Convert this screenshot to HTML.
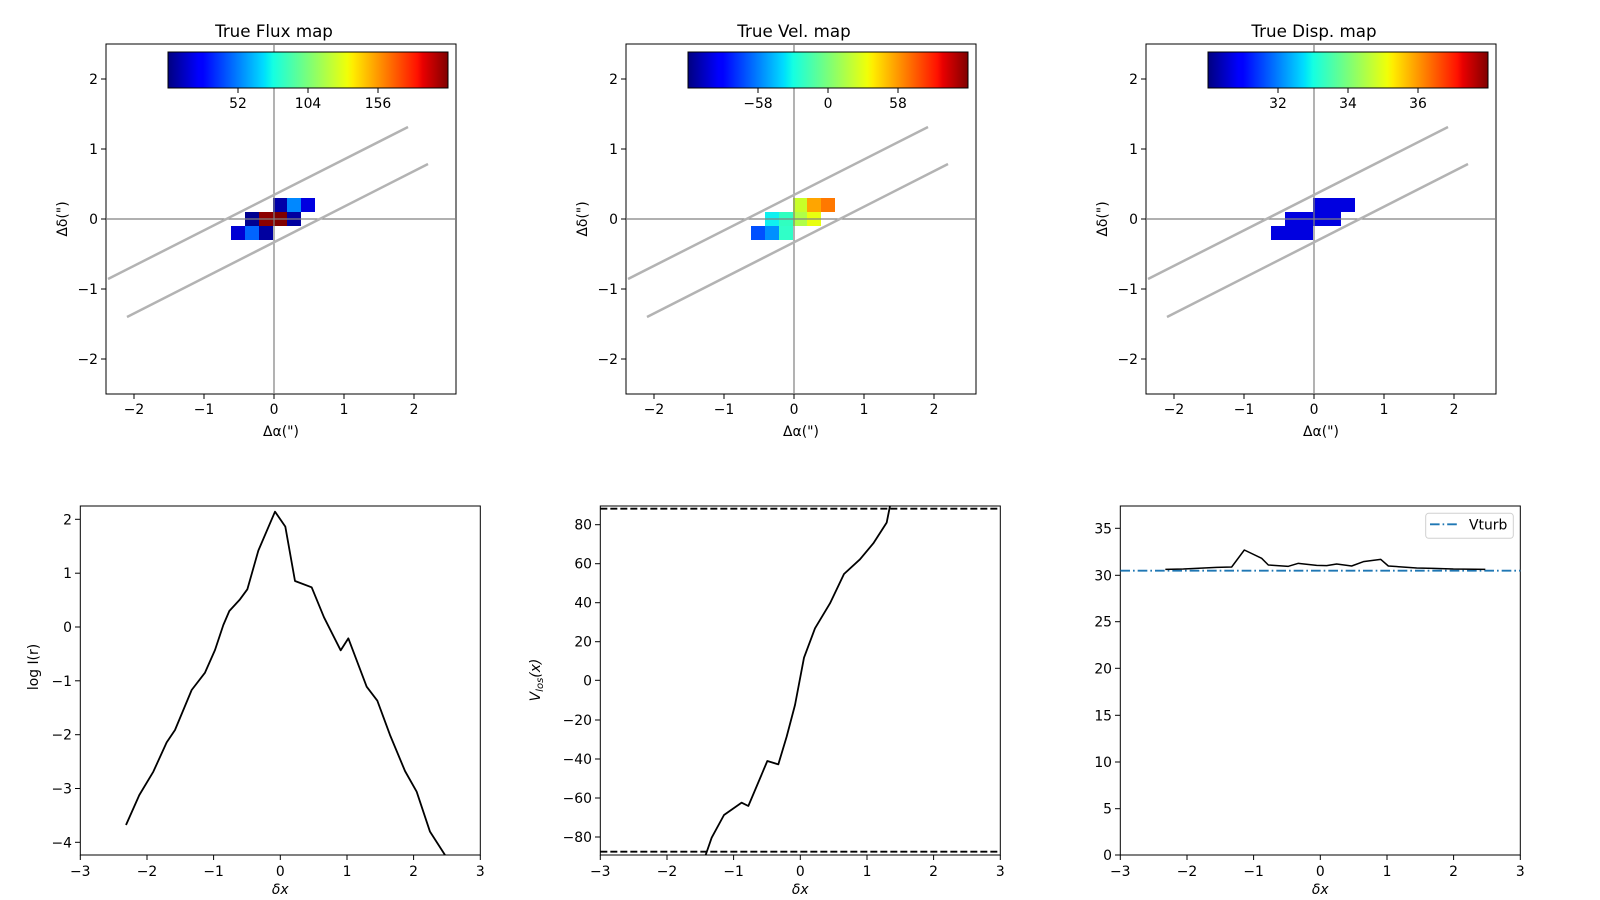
<!DOCTYPE html>
<html><head><meta charset="utf-8"><style>
html,body{margin:0;padding:0;background:#fff;}
svg{display:block;font-family:"DejaVu Sans","Liberation Sans",sans-serif;}
</style></head><body>
<svg width="1600" height="900" viewBox="0 0 1600 900" xmlns="http://www.w3.org/2000/svg">
<defs>
<linearGradient id="jet" x1="0" x2="1" y1="0" y2="0">
<stop offset="0" stop-color="#000080"/><stop offset="0.11" stop-color="#0000ff"/><stop offset="0.125" stop-color="#0000ff"/>
<stop offset="0.34" stop-color="#00dbff"/><stop offset="0.35" stop-color="#00e6f7"/><stop offset="0.375" stop-color="#14ffe3"/>
<stop offset="0.5" stop-color="#7aff7a"/><stop offset="0.64" stop-color="#f0ff08"/><stop offset="0.66" stop-color="#ffed00"/>
<stop offset="0.89" stop-color="#ff1200"/><stop offset="0.91" stop-color="#e80000"/><stop offset="1" stop-color="#800000"/>
</linearGradient>
<g id="topframe">
<rect x="106" y="44" width="350" height="350" fill="none" stroke="#000" stroke-width="1"/>
<line x1="274" y1="44" x2="274" y2="394" stroke="#808080" stroke-width="1.2"/>
<line x1="106" y1="219" x2="456" y2="219" stroke="#808080" stroke-width="1.2"/>
<line x1="108" y1="279" x2="408" y2="127" stroke="#b3b3b3" stroke-width="2.5"/>
<line x1="127" y1="317" x2="428" y2="164" stroke="#b3b3b3" stroke-width="2.5"/>
<rect x="168" y="52" width="280" height="36" fill="url(#jet)" stroke="#000" stroke-width="1"/>
<g stroke="#000" stroke-width="1">
<line x1="238" y1="88" x2="238" y2="93"/><line x1="308" y1="88" x2="308" y2="93"/><line x1="378" y1="88" x2="378" y2="93"/>
<line x1="134" y1="394" x2="134" y2="399"/><line x1="204" y1="394" x2="204" y2="399"/><line x1="274" y1="394" x2="274" y2="399"/><line x1="344" y1="394" x2="344" y2="399"/><line x1="414" y1="394" x2="414" y2="399"/>
<line x1="101" y1="79" x2="106" y2="79"/><line x1="101" y1="149" x2="106" y2="149"/><line x1="101" y1="219" x2="106" y2="219"/><line x1="101" y1="289" x2="106" y2="289"/><line x1="101" y1="359" x2="106" y2="359"/>
</g>
<g font-size="13.9" fill="#000">
<g text-anchor="middle">
<text x="134" y="414">−2</text><text x="204" y="414">−1</text><text x="274" y="414">0</text><text x="344" y="414">1</text><text x="414" y="414">2</text>
<text x="281" y="436">Δα(")</text>
</g>
<g text-anchor="end">
<text x="98" y="84">2</text><text x="98" y="154">1</text><text x="98" y="224">0</text><text x="98" y="294">−1</text><text x="98" y="364">−2</text>
</g>
<text transform="translate(67,219) rotate(-90)" text-anchor="middle">Δδ(")</text>
</g>
</g>
</defs>

<!-- Flux -->
<g>
<rect x="106" y="44" width="350" height="350" fill="#fff"/>
<rect x="273" y="198" width="14" height="14" fill="#0000a8"/><rect x="287" y="198" width="14" height="14" fill="#0088ff"/><rect x="301" y="198" width="14" height="14" fill="#0000e0"/>
<rect x="245" y="212" width="14" height="14" fill="#000090"/><rect x="259" y="212" width="14" height="14" fill="#8c0000"/><rect x="273" y="212" width="14" height="14" fill="#800000"/><rect x="287" y="212" width="14" height="14" fill="#0000a0"/>
<rect x="231" y="226" width="14" height="14" fill="#0000d4"/><rect x="245" y="226" width="14" height="14" fill="#0064ff"/><rect x="259" y="226" width="14" height="14" fill="#0000a0"/>
<use href="#topframe"/>
<g font-size="13.9" text-anchor="middle"><text x="238" y="108">52</text><text x="308" y="108">104</text><text x="378" y="108">156</text></g>
<text x="274" y="37" font-size="16.7" text-anchor="middle">True Flux map</text>
</g>

<!-- Vel -->
<g transform="translate(520,0)">
<rect x="273" y="198" width="14" height="14" fill="#c8ff28"/><rect x="287" y="198" width="14" height="14" fill="#ffa500"/><rect x="301" y="198" width="14" height="14" fill="#ff7800"/>
<rect x="245" y="212" width="14" height="14" fill="#10f0f0"/><rect x="259" y="212" width="14" height="14" fill="#30ffc0"/><rect x="273" y="212" width="14" height="14" fill="#b0ff48"/><rect x="287" y="212" width="14" height="14" fill="#e8ff10"/>
<rect x="231" y="226" width="14" height="14" fill="#0050ff"/><rect x="245" y="226" width="14" height="14" fill="#0090ff"/><rect x="259" y="226" width="14" height="14" fill="#30ffc8"/>
<use href="#topframe"/>
<g font-size="13.9" text-anchor="middle"><text x="238" y="108">−58</text><text x="308" y="108">0</text><text x="378" y="108">58</text></g>
<text x="274" y="37" font-size="16.7" text-anchor="middle">True Vel. map</text>
</g>

<!-- Disp -->
<g transform="translate(1040,0)">
<rect x="273" y="198" width="42" height="14" fill="#0000e0"/>
<rect x="245" y="212" width="56" height="14" fill="#0000e0"/>
<rect x="231" y="226" width="42" height="14" fill="#0000e0"/>
<use href="#topframe"/>
<g font-size="13.9" text-anchor="middle"><text x="238" y="108">32</text><text x="308" y="108">34</text><text x="378" y="108">36</text></g>
<text x="274" y="37" font-size="16.7" text-anchor="middle">True Disp. map</text>
</g>

<!-- Bottom left -->
<g>
<rect x="80.3" y="506" width="400" height="349" fill="none" stroke="#000"/>
<g transform="translate(20,490) scale(0.33333)">
<polyline fill="none" stroke="#000" stroke-width="5.4" stroke-linejoin="round" points="318,1005 358,915 400,845 440,757 465,720 515,600 555,548 585,480 610,405 628,363 660,328 682,298 715,182 765,65 796,110 825,273 875,292 912,382 962,481 985,445 1040,590 1072,632 1110,735 1155,843 1190,905 1230,1025 1275,1095"/>
</g>
<g stroke="#000">
<line x1="80.3" y1="855" x2="80.3" y2="860"/><line x1="147" y1="855" x2="147" y2="860"/><line x1="213.6" y1="855" x2="213.6" y2="860"/><line x1="280.3" y1="855" x2="280.3" y2="860"/><line x1="347" y1="855" x2="347" y2="860"/><line x1="413.6" y1="855" x2="413.6" y2="860"/><line x1="480.3" y1="855" x2="480.3" y2="860"/>
<line x1="75" y1="519.3" x2="80.3" y2="519.3"/><line x1="75" y1="573.2" x2="80.3" y2="573.2"/><line x1="75" y1="627" x2="80.3" y2="627"/><line x1="75" y1="680.8" x2="80.3" y2="680.8"/><line x1="75" y1="734.7" x2="80.3" y2="734.7"/><line x1="75" y1="788.5" x2="80.3" y2="788.5"/><line x1="75" y1="842.3" x2="80.3" y2="842.3"/>
</g>
<g font-size="13.9">
<g text-anchor="middle"><text x="80.3" y="876">−3</text><text x="147" y="876">−2</text><text x="213.6" y="876">−1</text><text x="280.3" y="876">0</text><text x="347" y="876">1</text><text x="413.6" y="876">2</text><text x="480.3" y="876">3</text>
<text x="280.3" y="894" font-style="italic">δx</text></g>
<g text-anchor="end"><text x="72" y="524.3">2</text><text x="72" y="578.2">1</text><text x="72" y="632">0</text><text x="72" y="685.8">−1</text><text x="72" y="739.7">−2</text><text x="72" y="793.5">−3</text><text x="72" y="847.3">−4</text></g>
<text transform="translate(38,667) rotate(-90)" text-anchor="middle">log I(r)</text>
</g>
</g>

<!-- Bottom middle -->
<g>
<rect x="600.3" y="506" width="400" height="349" fill="none" stroke="#000"/>
<g transform="translate(520,490) scale(0.33333)">
<line x1="241" y1="56" x2="1441" y2="56" stroke="#000" stroke-width="5.4" stroke-dasharray="21,9"/>
<line x1="241" y1="1085" x2="1441" y2="1085" stroke="#000" stroke-width="5.4" stroke-dasharray="21,9"/>
<polyline fill="none" stroke="#000" stroke-width="5.4" stroke-linejoin="round" points="557,1095 575,1043 612,975 665,938 685,948 742,813 775,823 800,740 825,645 852,503 885,415 930,340 972,252 1020,208 1060,160 1100,98 1110,48"/>
</g>
<g stroke="#000">
<line x1="600.3" y1="855" x2="600.3" y2="860"/><line x1="667" y1="855" x2="667" y2="860"/><line x1="733.6" y1="855" x2="733.6" y2="860"/><line x1="800.3" y1="855" x2="800.3" y2="860"/><line x1="867" y1="855" x2="867" y2="860"/><line x1="933.6" y1="855" x2="933.6" y2="860"/><line x1="1000.3" y1="855" x2="1000.3" y2="860"/>
<line x1="595" y1="524.7" x2="600.3" y2="524.7"/><line x1="595" y1="563.7" x2="600.3" y2="563.7"/><line x1="595" y1="602.7" x2="600.3" y2="602.7"/><line x1="595" y1="641.7" x2="600.3" y2="641.7"/><line x1="595" y1="680.3" x2="600.3" y2="680.3"/><line x1="595" y1="720" x2="600.3" y2="720"/><line x1="595" y1="759" x2="600.3" y2="759"/><line x1="595" y1="798" x2="600.3" y2="798"/><line x1="595" y1="837" x2="600.3" y2="837"/>
</g>
<g font-size="13.9">
<g text-anchor="middle"><text x="600.3" y="876">−3</text><text x="667" y="876">−2</text><text x="733.6" y="876">−1</text><text x="800.3" y="876">0</text><text x="867" y="876">1</text><text x="933.6" y="876">2</text><text x="1000.3" y="876">3</text>
<text x="800.3" y="894" font-style="italic">δx</text></g>
<g text-anchor="end"><text x="592" y="529.7">80</text><text x="592" y="568.7">60</text><text x="592" y="607.7">40</text><text x="592" y="646.7">20</text><text x="592" y="685.3">0</text><text x="592" y="725">−20</text><text x="592" y="764">−40</text><text x="592" y="803">−60</text><text x="592" y="842">−80</text></g>
<text transform="translate(540,680) rotate(-90)" text-anchor="middle" font-style="italic">V<tspan font-size="10" dy="3">los</tspan><tspan dy="-3">(x)</tspan></text>
</g>
</g>

<!-- Bottom right -->
<g>
<rect x="1120.3" y="506" width="400" height="349" fill="none" stroke="#000"/>
<g transform="translate(1060,490) scale(0.33333)">
<line x1="181" y1="242" x2="1381" y2="242" stroke="#1f77b4" stroke-width="5.4" stroke-dasharray="29,9,5,9"/>
<polyline fill="none" stroke="#000" stroke-width="4.5" stroke-linejoin="round" points="316,238 370,237 470,232 515,231 553,180 605,205 625,225 685,229 715,220 770,226 800,227 830,222 875,228 910,215 962,208 985,228 1070,234 1120,235 1180,237 1276,238"/>
</g>
<rect x="1425.7" y="513.3" width="87.6" height="25" rx="3" fill="#fff" fill-opacity="0.8" stroke="#d0d0d0"/>
<line x1="1430" y1="524.3" x2="1458" y2="524.3" stroke="#1f77b4" stroke-width="1.8" stroke-dasharray="9.6,3,1.6,3"/>
<text x="1469" y="529.5" font-size="13.9">Vturb</text>
<g stroke="#000">
<line x1="1120.3" y1="855" x2="1120.3" y2="860"/><line x1="1187" y1="855" x2="1187" y2="860"/><line x1="1253.6" y1="855" x2="1253.6" y2="860"/><line x1="1320.3" y1="855" x2="1320.3" y2="860"/><line x1="1387" y1="855" x2="1387" y2="860"/><line x1="1453.6" y1="855" x2="1453.6" y2="860"/><line x1="1520.3" y1="855" x2="1520.3" y2="860"/>
<line x1="1115" y1="528.3" x2="1120.3" y2="528.3"/><line x1="1115" y1="575.3" x2="1120.3" y2="575.3"/><line x1="1115" y1="621.7" x2="1120.3" y2="621.7"/><line x1="1115" y1="668.3" x2="1120.3" y2="668.3"/><line x1="1115" y1="715.3" x2="1120.3" y2="715.3"/><line x1="1115" y1="762" x2="1120.3" y2="762"/><line x1="1115" y1="808.7" x2="1120.3" y2="808.7"/><line x1="1115" y1="855" x2="1120.3" y2="855"/>
</g>
<g font-size="13.9">
<g text-anchor="middle"><text x="1120.3" y="876">−3</text><text x="1187" y="876">−2</text><text x="1253.6" y="876">−1</text><text x="1320.3" y="876">0</text><text x="1387" y="876">1</text><text x="1453.6" y="876">2</text><text x="1520.3" y="876">3</text>
<text x="1320.3" y="894" font-style="italic">δx</text></g>
<g text-anchor="end"><text x="1112" y="533.3">35</text><text x="1112" y="580.3">30</text><text x="1112" y="626.7">25</text><text x="1112" y="673.3">20</text><text x="1112" y="720.3">15</text><text x="1112" y="767">10</text><text x="1112" y="813.7">5</text><text x="1112" y="860">0</text></g>
</g>
</g>
</svg>
</body></html>
